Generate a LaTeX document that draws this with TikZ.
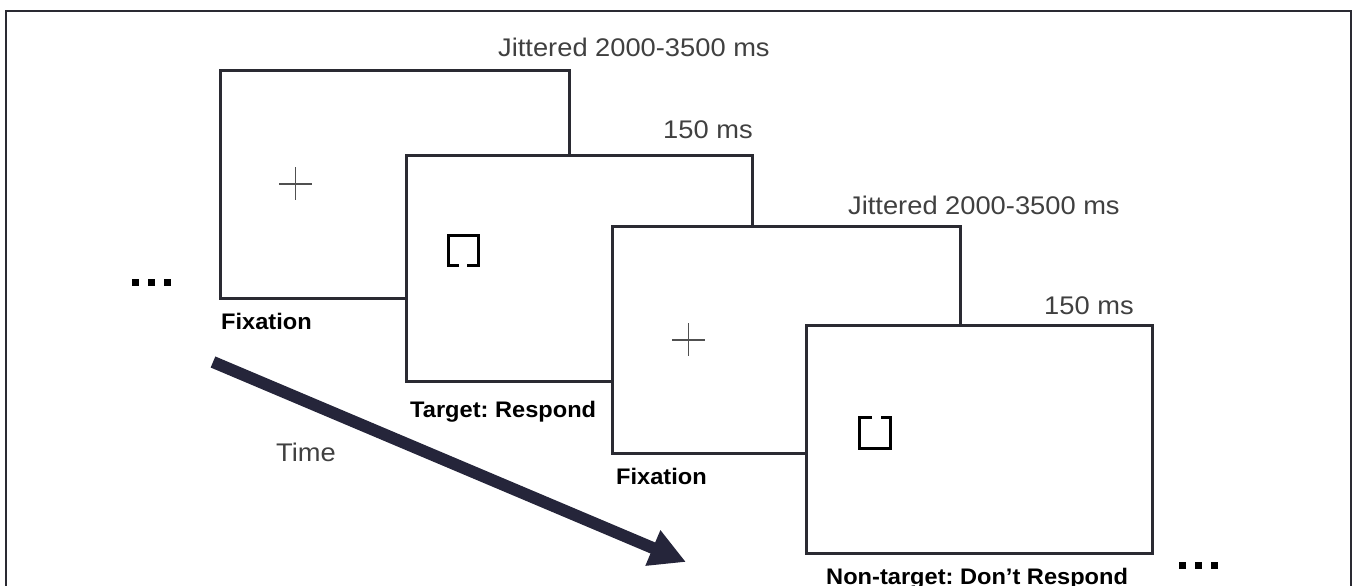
\documentclass[tikz,border=0pt]{standalone}
\usepackage{fontspec}
\setmainfont{Liberation Sans}
\newfontfamily\timingfont[FakeStretch=1.07]{Liberation Sans}
\newfontfamily\captionfont[FakeStretch=1.05]{Liberation Sans}
\usetikzlibrary{arrows.meta}
\definecolor{framec}{HTML}{2A2A32}
\definecolor{arrowc}{HTML}{25253A}
\definecolor{labelgray}{HTML}{404040}
\definecolor{crossgray}{HTML}{505050}
\tikzset{
  screen/.style={draw=framec, line width=3pt, fill=white, inner sep=0pt, rectangle},
  timing/.style={anchor=base west, inner sep=0pt, text=labelgray, font=\timingfont\fontsize{25.5}{28}\selectfont},
  caption/.style={anchor=base west, inner sep=0pt, text=black, font=\captionfont\bfseries\fontsize{22.5}{25}\selectfont},
  crossline/.style={draw=crossgray, line width=1.7pt},
  bracket/.style={draw=black, line width=3pt},
  dotsq/.style={fill=black, minimum size=7pt, inner sep=0pt, rectangle},
}
\begin{document}
\frenchspacing
\begin{tikzpicture}[x=1pt, y=-1pt]
\useasboundingbox (0,0) rectangle (1353,586);
% outer frame (no bottom edge)
\draw[framec, line width=2pt] (5.5,586) -- (5.5,11.5) -- (1350.5,11.5) -- (1350.5,586);

% screens
\node[screen, minimum width=349pt, minimum height=227pt] (s1) at (394.5,184.5) {};
\node[screen, minimum width=346pt, minimum height=226pt] (s2) at (579,268) {};
\node[screen, minimum width=348pt, minimum height=227pt] (s3) at (786,339.5) {};
\node[screen, minimum width=346pt, minimum height=228pt] (s4) at (979,439) {};

% fixation crosses
\draw[crossline] (279,184) -- (312,184) (295.5,167) -- (295.5,200);
\draw[crossline] (672,340) -- (705,340) (688.5,323) -- (688.5,356);

% target (gap at bottom)
\draw[bracket] (459,265) -- (448.5,265) -- (448.5,235.5) -- (478.5,235.5) -- (478.5,265) -- (467,265);
% non-target (gap at top)
\draw[bracket] (872,417.5) -- (859.5,417.5) -- (859.5,448.5) -- (890.5,448.5) -- (890.5,417.5) -- (881,417.5);

% timing labels
\node[timing] (t1) at (498,57) {Jittered 2000-3500 ms};
\node[timing] (t2) at (663,139) {150 ms};
\node[timing] (t3) at (848,214) {Jittered 2000-3500 ms};
\node[timing] (t4) at (1044,314) {150 ms};

% captions
\node[caption] (c1) at (221,329) {Fixation};
\node[caption] (c2) at (410,417) {Target: Respond};
\node[caption] (c3) at (616,484) {Fixation};
\node[caption] (c4) at (826,584) {Non-target: Don’t Respond};

% time arrow
\coordinate (a0) at (213,362);
\coordinate (a1) at (686,562);
\draw[arrowc, line width=12pt, -{Triangle[length=36pt, width=36pt]}] (a0) -- (a1);
\node[timing] (time) at (276,461) {Time};

% ellipsis dots
\node[dotsq] (d1) at (135,282) {};
\node[dotsq] (d2) at (151,282) {};
\node[dotsq] (d3) at (167,282) {};
\node[dotsq] (d4) at (1182,565) {};
\node[dotsq] (d5) at (1198,565) {};
\node[dotsq] (d6) at (1214,565) {};
\end{tikzpicture}
\end{document}
